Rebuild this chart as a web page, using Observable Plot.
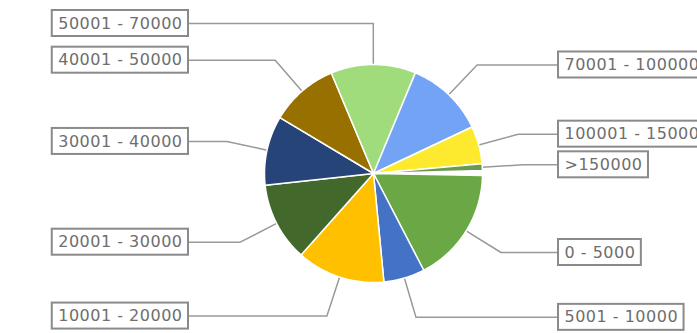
<!DOCTYPE html>
<html>
<head>
<meta charset="utf-8">
<script src="https://cdn.jsdelivr.net/npm/d3@7"></script>
<script src="https://cdn.jsdelivr.net/npm/@observablehq/plot@0.6"></script>
<style>
  html, body { margin: 0; padding: 0; background: #fff; overflow: hidden; }
</style>
</head>
<body>
<div id="chart"></div>
<script>
// ---- data ----
const categories = ["0 - 5000", "5001 - 10000", "10001 - 20000", "20001 - 30000", "30001 - 40000",
  "40001 - 50000", "50001 - 70000", "70001 - 100000", "100001 - 150000", ">150000"];
const shares = [17.1, 6.1, 13.1, 11.7, 10.3, 10.1, 12.6, 11.7, 5.6, 1.0]; // percent
const colors = ["#6aa846", "#4472c4", "#ffc000", "#43682b", "#264478",
  "#977000", "#a0dc7c", "#72a3f5", "#fdea2f", "#6a9a4c"];

// ---- layout ----
const W = 697, H = 333;
const cx = 373, cy = 173, r = 109, rElbow = 150, colOffset = 185;
const startDeg = 1; // clockwise from 3 o'clock
const fontSize = 16, pad = 6, boxH = 26, ls = 0.5;
const rad = d => d * Math.PI / 180;

const ctx = document.createElement("canvas").getContext("2d");
ctx.font = `${fontSize}px 'DejaVu Sans'`;

const slices = [];
const leaders = [];
const boxes = [];
let a0 = startDeg;
categories.forEach((cat, i) => {
  const span = shares[i] / 100 * 360;
  const a1 = a0 + span;
  slices.push({k: i, x: cx, y: cy, color: colors[i]});
  const n = Math.max(2, Math.ceil(span));
  for (let j = 0; j <= n; j++) {
    const a = rad(a0 + span * j / n);
    slices.push({k: i, x: cx + r * Math.cos(a), y: cy + r * Math.sin(a), color: colors[i]});
  }
  const m = rad((a0 + a1) / 2);
  const ax = cx + r * Math.cos(m), ay = cy + r * Math.sin(m);
  const ex = cx + rElbow * Math.cos(m), ey = cy + rElbow * Math.sin(m);
  const right = Math.cos(m) >= 0;
  const bx = right ? cx + colOffset : cx - colOffset;
  leaders.push({k: i, x: ax, y: ay}, {k: i, x: ex, y: ey}, {k: i, x: bx, y: ey});
  const tw = ctx.measureText(cat).width + ls * cat.length;
  const w = tw + 2 * pad;
  const x1 = right ? bx : bx - w;
  boxes.push({label: cat, x1, x2: x1 + w, y1: ey - boxH / 2, y2: ey + boxH / 2, tx: x1 + pad, ty: ey});
  a0 = a1;
});

const chart = Plot.plot({
  width: W, height: H, margin: 0,
  style: {fontFamily: "'DejaVu Sans'", background: "#fff", letterSpacing: `${ls}px`},
  x: {domain: [0, W], range: [0, W], axis: null},
  y: {domain: [0, H], range: [0, H], axis: null},
  color: {type: "identity"},
  marks: [
    Plot.line(leaders, {x: "x", y: "y", z: "k", stroke: "#999", strokeWidth: 1.5}),
    Plot.line(slices, {x: "x", y: "y", z: "k", fill: "color", stroke: "#fff", strokeWidth: 1.5, curve: "linear-closed"}),
    Plot.rect(boxes, {x1: "x1", x2: "x2", y1: "y1", y2: "y2", fill: "#fff", stroke: "#8a8a8a", strokeWidth: 2}),
    Plot.text(boxes, {x: "tx", y: "ty", text: "label", textAnchor: "start", fontSize: fontSize, fill: "#6e6e6e"})
  ]
});
document.getElementById("chart").appendChild(chart);
</script>
</body>
</html>
